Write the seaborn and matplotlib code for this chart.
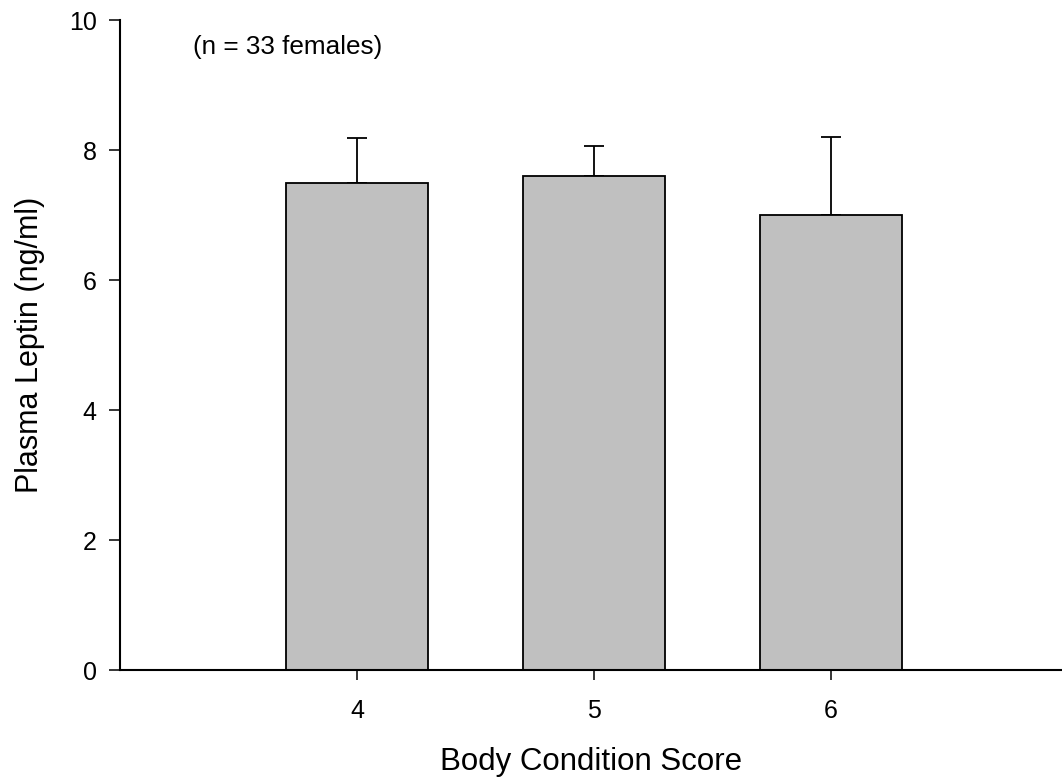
import numpy as np
import pandas as pd
import matplotlib
matplotlib.use('Agg')
import matplotlib.pyplot as plt
import seaborn as sns

# Data
scores = [4, 5, 6]
leptin_mean = [7.5, 7.6, 7.0]
leptin_err = [0.69, 0.46, 1.2]

df = pd.DataFrame({'score': scores, 'leptin': leptin_mean})

sns.set_style('ticks')
plt.rcParams['font.family'] = ['Liberation Sans', 'DejaVu Sans']
plt.rcParams['text.color'] = 'black'
plt.rcParams['axes.labelcolor'] = 'black'

fig = plt.figure(figsize=(10.62, 7.81), dpi=100)
ax = fig.add_axes([120 / 1062, 1 - 670 / 781, 942 / 1062, 650 / 781])

# Error bars first so the bars sit over the lower half
ax.errorbar(df['score'], df['leptin'],
            yerr=[np.zeros(len(scores)), leptin_err],
            fmt='none', ecolor='black', elinewidth=1.3,
            capsize=7.2, capthick=1.3, zorder=1)

sns.barplot(data=df, x='score', y='leptin', native_scale=True, width=0.6,
            color='#c0c0c0', saturation=1, edgecolor='black', linewidth=1.3,
            errorbar=None, ax=ax, zorder=2)

ax.set_xlim(3, 6.975)
ax.set_ylim(0, 10)
ax.set_xticks(scores)
ax.set_xticklabels([str(s) for s in scores])
ax.set_yticks([0, 2, 4, 6, 8, 10])

sns.despine(ax=ax)
for side in ['left', 'bottom']:
    ax.spines[side].set_linewidth(1.5)
    ax.spines[side].set_color('black')

ax.tick_params(axis='y', direction='out', length=7.7, width=1.1,
               labelsize=18, pad=9, colors='black')
ax.tick_params(axis='x', direction='out', length=7.2, width=1.1,
               labelsize=18, pad=14, colors='black')

ax.set_xlabel('Body Condition Score', fontsize=22.5, labelpad=17)
ax.set_ylabel('Plasma Leptin (ng/ml)', fontsize=22, labelpad=17)

ax.text(3.31, 9.58, '(n = 33 females)', fontsize=18.8, ha='left', va='center')

fig.savefig('out.png', dpi=100)
